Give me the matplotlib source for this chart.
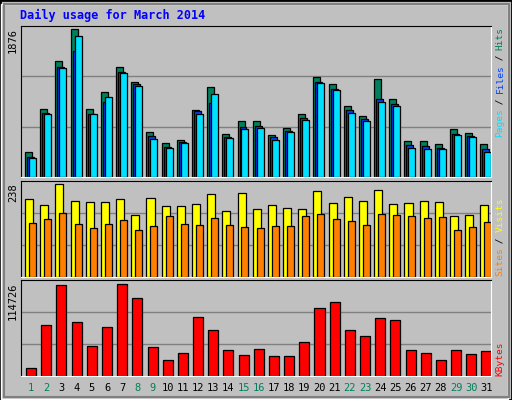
import matplotlib
matplotlib.use("Agg")
import matplotlib.pyplot as plt
from matplotlib.patches import Rectangle
import numpy as np

days = list(range(1, 32))
weekend = [1, 2, 8, 9, 15, 16, 22, 23, 29, 30]

hits = [323, 870, 1468, 1876, 870, 1086, 1392, 1201, 577, 437, 475, 857, 1137, 552, 717, 705,
        539, 628, 794, 1265, 1176, 896, 781, 1239, 997, 463, 463, 424, 615, 564, 424]
files = [259, 819, 1392, 1596, 806, 959, 1328, 1176, 526, 386, 450, 832, 946, 514, 641, 654,
         514, 590, 755, 1201, 1112, 857, 743, 985, 921, 412, 399, 373, 552, 526, 361]
pages = [246, 794, 1379, 1787, 794, 1010, 1316, 1150, 488, 373, 437, 806, 1048, 501, 615, 628,
         475, 577, 730, 1188, 1099, 819, 717, 959, 908, 373, 361, 361, 539, 514, 323]
visits = [199, 184, 238, 194, 191, 191, 199, 158, 202, 181, 181, 186, 212, 168, 215, 173,
          184, 176, 173, 220, 189, 204, 194, 222, 186, 189, 194, 191, 155, 158, 184]
sites = [137, 147, 163, 134, 124, 134, 145, 119, 129, 155, 134, 132, 150, 132, 127, 124,
         129, 129, 155, 160, 147, 142, 132, 160, 158, 155, 150, 153, 119, 127, 140]
kbytes = [10468, 63224, 113468, 66992, 36846, 60712, 114726, 97138, 35590, 20516, 29309,
          73273, 56943, 31821, 26797, 33077, 25541, 25541, 41870, 84577, 92114, 56943,
          49407, 72016, 69504, 31821, 29309, 20516, 31821, 28053, 30565]

W, H = 512, 400
BG = "#c0c0c0"
fig = plt.figure(figsize=(W / 100, H / 100), dpi=100, facecolor=BG)
mono = "DejaVu Sans Mono"

# outer frame
fig.patches.append(Rectangle((0, 0), 1, 1, transform=fig.transFigure, fill=False,
                             edgecolor="black", lw=2))
fig.patches.append(Rectangle((1 / W, 1 / H), (W - 5) / W, (H - 5) / H, transform=fig.transFigure,
                             fill=False, edgecolor="white", lw=1))
fig.patches.append(Rectangle((4 / W, 3 / H), (W - 7) / W, (H - 7) / H, transform=fig.transFigure,
                             fill=False, edgecolor="#808080", lw=1.5))


def panel(top, bottom):
    return fig.add_axes([20.5 / W, 1 - bottom / H, (491 - 20.5) / W, (bottom - top) / H])


def style(ax, ymax):
    ax.set_facecolor(BG)
    ax.set_xlim(0, 31)
    ax.set_ylim(0, ymax)
    ax.set_xticks([])
    ax.set_yticks([])
    for y in (ymax / 3, ymax * 2 / 3):
        ax.axhline(y, color="#808080", lw=1, zorder=0)
    for s in ("left", "top"):
        ax.spines[s].set_color("black")
    for s in ("right", "bottom"):
        ax.spines[s].set_color("white")


x = np.arange(31)
kw = dict(align="edge", edgecolor="black", linewidth=0.9)

ax1 = panel(26, 177)
style(ax1, 1918)
ax1.bar(x + 0.30, hits, width=0.46, color="#00805c", **kw)
ax1.bar(x + 0.43, files, width=0.46, color="#0040ff", **kw)
ax1.bar(x + 0.56, pages, width=0.46, color="#00e0ff", **kw)

ax2 = panel(180.5, 276.5)
style(ax2, 247)
ax2.bar(x + 0.30, visits, width=0.53, color="#ffff00", **kw)
ax2.bar(x + 0.56, sites, width=0.46, color="#ff8000", **kw)

ax3 = panel(280, 376)
style(ax3, 119747)
ax3.bar(x + 0.37, kbytes, width=0.66, color="#ff0000", **kw)

for i, d in enumerate(days):
    ax3.text(i + 0.7, -0.12, str(d), transform=ax3.get_xaxis_transform(), ha="center",
             va="center", fontsize=7.5, family=mono,
             color="#00805c" if d in weekend else "black")

fig.text(20 / W, 1 - 15 / H, "Daily usage for March 2014", color="#0000ff", fontsize=8.5,
         family=mono, fontweight="bold", va="center")

for txt, ytop in (("1876", 28), ("238", 183), ("114726", 283)):
    fig.text(13 / W, 1 - ytop / H, txt, rotation=90, fontsize=7.5, family=mono,
             ha="center", va="top")


def side(parts, ybottom):
    y = ybottom
    for txt, col in parts:
        fig.text(500 / W, 1 - y / H, txt, rotation=90, fontsize=6.8, family=mono,
                 color=col, ha="center", va="bottom")
        y -= 5.45 * len(txt)


side([("Pages", "#00e0ff"), (" / ", "black"), ("Files", "#0040ff"), (" / ", "black"),
      ("Hits", "#00805c")], 137)
side([("Sites", "#ff8000"), (" / ", "black"), ("Visits", "#ffff00")], 276)
side([("KBytes", "#ff0000")], 376)

fig.savefig("out.png", dpi=100, facecolor=BG)
